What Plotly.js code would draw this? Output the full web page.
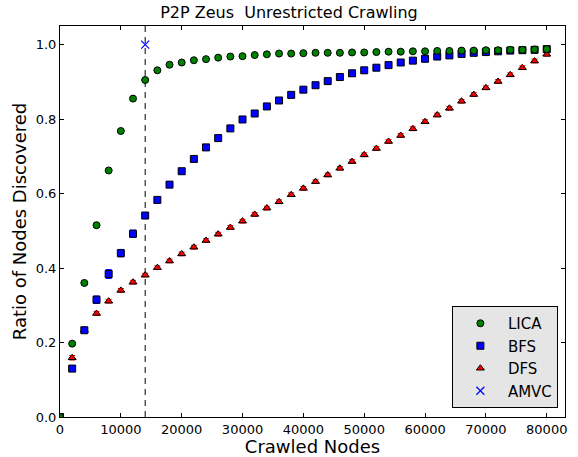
<!DOCTYPE html>
<html>
<head>
<meta charset="utf-8">
<script src="https://cdn.plot.ly/plotly-3.0.1.min.js"></script>
<style>html,body{margin:0;padding:0;background:#fff;}#chart{width:578px;height:457px;}</style>
</head>
<body>
<div id="chart"></div>
<script>
const crawled = [0,2000,4000,6000,8000,10000,12000,14000,16000,18000,20000,22000,24000,26000,28000,30000,32000,34000,36000,38000,40000,42000,44000,46000,48000,50000,52000,54000,56000,58000,60000,62000,64000,66000,68000,70000,72000,74000,76000,78000,80000];
const licaRatio = [0,0.197,0.360,0.515,0.662,0.768,0.855,0.905,0.931,0.946,0.952,0.958,0.961,0.965,0.968,0.969,0.972,0.974,0.976,0.976,0.977,0.978,0.978,0.978,0.979,0.979,0.980,0.981,0.981,0.982,0.982,0.983,0.983,0.984,0.984,0.985,0.985,0.986,0.986,0.987,0.988];
const licaErr = [0,0.004,0.004,0.004,0.004,0.004,0.003,0.003,0.003,0.003,0.002,0.002,0.002,0.002,0.002,0.002,0.002,0.002,0.002,0.002,0.002,0.002,0.002,0.002,0.002,0.002,0.002,0.002,0.002,0.002,0.002,0.002,0.002,0.002,0.002,0.002,0.002,0.002,0.002,0.002,0.002];
const bfsRatio = [0,0.130,0.233,0.315,0.384,0.440,0.492,0.541,0.583,0.624,0.660,0.693,0.724,0.749,0.775,0.799,0.815,0.834,0.850,0.865,0.879,0.891,0.902,0.913,0.923,0.931,0.938,0.945,0.952,0.957,0.962,0.968,0.971,0.975,0.978,0.980,0.982,0.984,0.985,0.986,0.988];
const bfsErr = [0,0.004,0.006,0.010,0.012,0.010,0.010,0.008,0.006,0.006,0.005,0.005,0.005,0.005,0.004,0.004,0.004,0.004,0.004,0.004,0.004,0.004,0.003,0.003,0.003,0.003,0.003,0.003,0.003,0.003,0.003,0.003,0.003,0.003,0.003,0.003,0.003,0.003,0.003,0.003,0.003];
const dfsRatio = [0,0.159,0.233,0.278,0.311,0.340,0.362,0.381,0.401,0.419,0.438,0.456,0.474,0.491,0.509,0.526,0.544,0.561,0.578,0.597,0.614,0.632,0.650,0.668,0.686,0.704,0.721,0.740,0.756,0.774,0.793,0.811,0.829,0.848,0.866,0.884,0.901,0.919,0.938,0.956,0.974];
const dfsErr = [0,0.006,0.005,0.005,0.005,0.005,0.005,0.005,0.005,0.005,0.005,0.005,0.005,0.005,0.005,0.005,0.005,0.005,0.005,0.005,0.005,0.005,0.005,0.005,0.005,0.005,0.005,0.005,0.005,0.005,0.005,0.005,0.005,0.005,0.005,0.005,0.005,0.005,0.005,0.005,0.005];
const amvcX = [14000];
const amvcY = [1.0];
const seriesNames = ["LICA","BFS","DFS","AMVC"];
const xTicks = [0,10000,20000,30000,40000,50000,60000,70000,80000];
const yTicks = [0.0,0.2,0.4,0.6,0.8,1.0];
const yTickText = ["0.0","0.2","0.4","0.6","0.8","1.0"];

const FONT = "DejaVu Sans, sans-serif";

function series(name, y, err, color, symbol) {
  return {
    type: "scatter", mode: "markers", name: name, x: crawled, y: y,
    marker: {color: color, symbol: symbol, size: 7, line: {color: "#000", width: 1}},
    error_y: {type: "data", array: err, visible: true, color: color, thickness: 1, width: 3}
  };
}

const traces = [
  series(seriesNames[2], dfsRatio, dfsErr, "#ff0000", "triangle-up"),
  series(seriesNames[1], bfsRatio, bfsErr, "#0000ff", "square"),
  series(seriesNames[0], licaRatio, licaErr, "#008000", "circle"),
  {type: "scatter", mode: "markers", name: seriesNames[3], x: amvcX, y: amvcY,
   marker: {symbol: "x-thin-open", size: 8, color: "#0000ff", line: {color: "#0000ff", width: 1.2}}}
];
traces[0].legendrank = 3; traces[1].legendrank = 2; traces[2].legendrank = 1; traces[3].legendrank = 4;

const layout = {
  width: 578, height: 457,
  margin: {l: 60, r: 13, t: 26, b: 40},
  paper_bgcolor: "#ffffff", plot_bgcolor: "#ffffff",
  font: {family: FONT, color: "#000", size: 13},
  title: {text: "P2P Zeus\u00a0 Unrestricted Crawling", font: {family: FONT, size: 16, color: "#000"}, x: 0.5, xanchor: "center", y: 0.985, yanchor: "top"},
  showlegend: true,
  legend: {x: 0.776, y: 0.023, xanchor: "left", yanchor: "bottom", bgcolor: "#e5e5e5", bordercolor: "#000", borderwidth: 1,
           font: {family: FONT, size: 15, color: "#000"}, tracegroupgap: 0, itemwidth: 45},
  xaxis: {range: [0, 83000], tickvals: xTicks, ticktext: xTicks.map(String), ticks: "inside", ticklen: 4, tickcolor: "#000",
          showline: true, linecolor: "#000", linewidth: 1, mirror: "ticks", showgrid: false, zeroline: false,
          tickfont: {family: FONT, size: 13, color: "#000"},
          title: {text: "Crawled Nodes", font: {family: FONT, size: 18, color: "#000"}, standoff: 3}},
  yaxis: {range: [0, 1.05], tickvals: yTicks, ticktext: yTickText, ticks: "inside", ticklen: 4, tickcolor: "#000",
          showline: true, linecolor: "#000", linewidth: 1, mirror: "ticks", showgrid: false, zeroline: false,
          tickfont: {family: FONT, size: 13, color: "#000"},
          title: {text: "Ratio of Nodes Discovered", font: {family: FONT, size: 18, color: "#000"}, standoff: 4}},
  shapes: [{type: "line", xref: "x", yref: "paper", x0: amvcX[0], x1: amvcX[0], y0: 0, y1: 1,
            line: {color: "#000", width: 1, dash: "6px,5px"}, layer: "below"}]
};

Plotly.newPlot("chart", traces, layout, {displayModeBar: false, staticPlot: true});
</script>
</body>
</html>
